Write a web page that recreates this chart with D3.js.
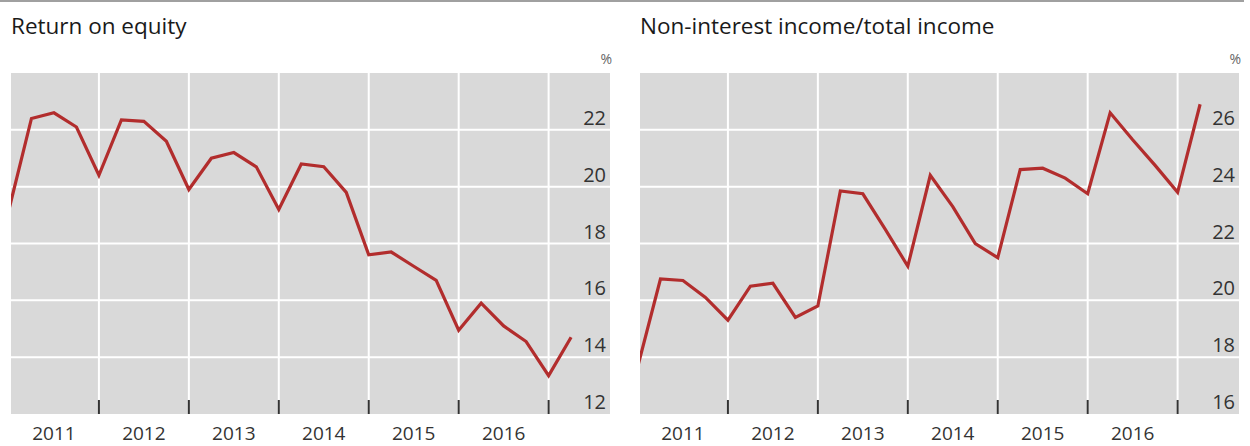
<!DOCTYPE html>
<html><head><meta charset="utf-8">
<script src="https://cdn.jsdelivr.net/npm/d3@7"></script>
<style>body{margin:0;background:#fff}svg{display:block}text{font-family:"Open Sans",sans-serif}</style>
</head><body>
<script>
// Quarterly observations, Q4 2010 .. Q1 2017
const quarters = ["2010Q4","2011Q1","2011Q2","2011Q3","2011Q4","2012Q1","2012Q2","2012Q3","2012Q4",
  "2013Q1","2013Q2","2013Q3","2013Q4","2014Q1","2014Q2","2014Q3","2014Q4","2015Q1","2015Q2","2015Q3","2015Q4",
  "2016Q1","2016Q2","2016Q3","2016Q4","2017Q1"];
const returnOnEquity = [19.2,22.4,22.6,22.1,20.4,22.35,22.3,21.6,19.9,21.0,21.2,20.7,19.2,20.8,20.7,19.8,
  17.6,17.7,17.2,16.7,14.95,15.9,15.1,14.55,13.35,14.7];
const nonInterestShare = [17.7,20.75,20.7,20.1,19.3,20.5,20.6,19.4,19.8,23.85,23.75,22.5,21.2,24.4,23.3,22.0,
  21.5,24.6,24.65,24.3,23.75,26.6,25.65,24.75,23.8,26.9];
const yearLabels = ["2011","2012","2013","2014","2015","2016"];
const roeTicks = [12,14,16,18,20,22];
const niiTicks = [16,18,20,22,24,26];
const titles = ["Return on equity","Non-interest income/total income"];

const W = 1250, H = 446;
const svg = d3.select("body").append("svg").attr("width", W).attr("height", H);

// top rule
svg.append("line").attr("x1",0).attr("x2",1244).attr("y1",1).attr("y2",1)
  .attr("stroke","#a0a0a0").attr("stroke-width",2);

const panels = [
  {x0: 11, x1: 610, values: returnOnEquity, ticks: roeTicks, domain:[12,24], title: titles[0]},
  {x0: 640, x1: 1239, values: nonInterestShare, ticks: niiTicks, domain:[16,28], title: titles[1]}
];
const plotTop = 73, plotBottom = 414;

panels.forEach((p, pi) => {
  const g = svg.append("g");
  const x = d3.scaleLinear().domain([0.09, 26.73]).range([p.x0, p.x1]);
  const y = d3.scaleLinear().domain(p.domain).range([plotBottom, plotTop]);

  g.append("text").attr("x", p.x0).attr("y", 34).attr("font-size", 22.5).attr("fill","#1a1a1a").text(p.title);
  g.append("text").attr("x", p.x1 + 2).attr("y", 64).attr("text-anchor","end").attr("font-size", 14)
    .attr("fill","#666").text("%");

  g.append("rect").attr("x", p.x0).attr("y", plotTop).attr("width", p.x1 - p.x0).attr("height", plotBottom - plotTop)
    .attr("fill", "#d9d9d9");

  const clipId = "clip" + pi;
  svg.append("clipPath").attr("id", clipId).append("rect")
    .attr("x", p.x0).attr("y", plotTop).attr("width", p.x1 - p.x0).attr("height", plotBottom - plotTop);

  g.selectAll(".hg").data(p.ticks.filter(t => t > p.domain[0])).join("line")
    .attr("x1", p.x0).attr("x2", p.x1).attr("y1", d => y(d)).attr("y2", d => y(d))
    .attr("stroke", "#fff").attr("stroke-width", 2);
  const bounds = yearLabels.map((d, i) => 4 + 4 * i);
  g.selectAll(".vg").data(bounds).join("line")
    .attr("x1", d => x(d)).attr("x2", d => x(d)).attr("y1", plotTop).attr("y2", plotBottom)
    .attr("stroke", "#fff").attr("stroke-width", 2);
  g.selectAll(".tk").data(bounds).join("line")
    .attr("x1", d => x(d)).attr("x2", d => x(d)).attr("y1", plotBottom - 14).attr("y2", plotBottom)
    .attr("stroke", "#333").attr("stroke-width", 2);

  g.selectAll(".yl").data(p.ticks).join("text")
    .attr("x", p.x1 - 4).attr("y", d => y(d) - 5).attr("text-anchor", "end")
    .attr("font-size", 20).attr("fill", "#333").text(d => d);

  g.selectAll(".xl").data(yearLabels).join("text")
    .attr("x", (d, i) => x(2 + 4 * i)).attr("y", 440).attr("text-anchor", "middle")
    .attr("font-size", 19).attr("fill", "#333").text(d => d);

  const line = d3.line().x((d, i) => x(i)).y(d => y(d));
  g.append("path").datum(p.values).attr("d", line).attr("clip-path", `url(#${clipId})`)
    .attr("fill", "none").attr("stroke", "#b22d2d").attr("stroke-width", 3.2)
    .attr("stroke-linejoin", "miter");
});
</script>
</body></html>
